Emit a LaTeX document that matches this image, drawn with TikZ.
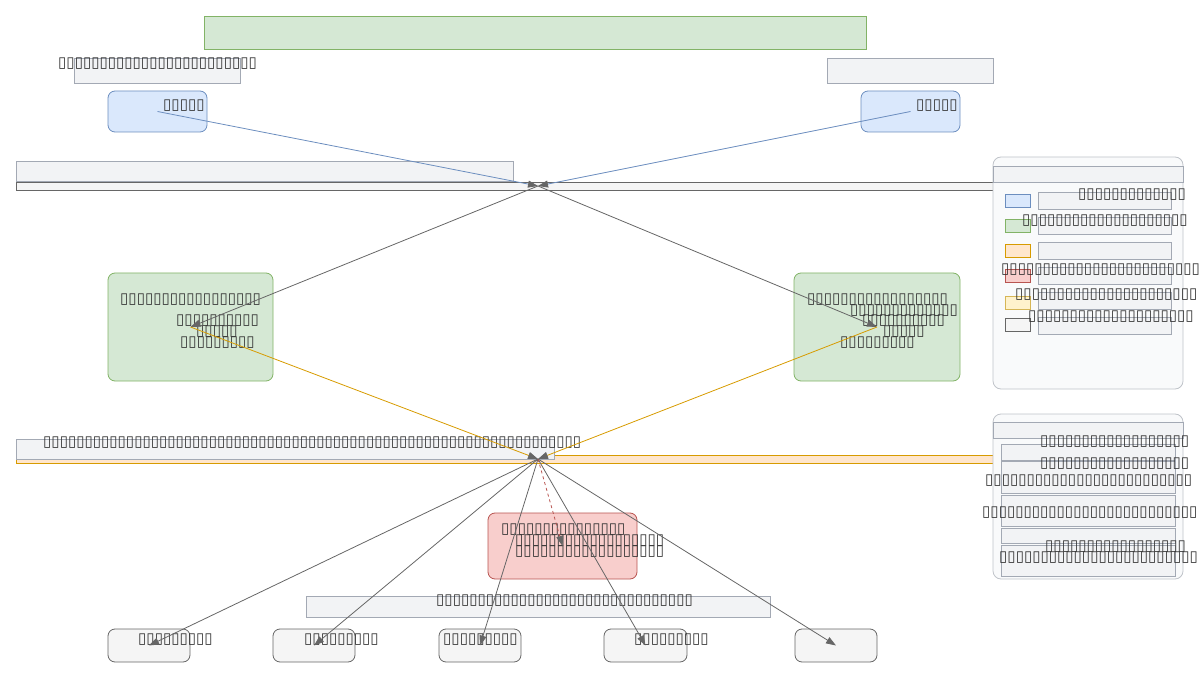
\documentclass[tikz,border=0pt]{standalone}
\usepackage{fontspec}
\usetikzlibrary{arrows.meta}
\newfontfamily\tofufont{DejaVu Sans}
\newcommand\tofus[1]{\foreach \i in {1,...,#1}{▯}}
\definecolor{cgray}{HTML}{666666}
\definecolor{ctext}{HTML}{333333}
\definecolor{lblfill}{HTML}{F2F3F5}
\definecolor{lbldraw}{HTML}{A3A9B4}
\definecolor{bluefill}{HTML}{DAE8FC}
\definecolor{bluedraw}{HTML}{6C8EBF}
\definecolor{greenfill}{HTML}{D5E8D4}
\definecolor{greendraw}{HTML}{82B366}
\definecolor{orfill}{HTML}{FFE6CC}
\definecolor{ordraw}{HTML}{D79B00}
\definecolor{redfill}{HTML}{F8CECC}
\definecolor{reddraw}{HTML}{B85450}
\definecolor{yelfill}{HTML}{FFF2CC}
\definecolor{yeldraw}{HTML}{D6B656}
\definecolor{grayfill}{HTML}{F5F5F5}
\definecolor{legfill}{HTML}{F9FAFB}
\definecolor{legdraw}{HTML}{BFC3C9}
\begin{document}
\begin{tikzpicture}[x=1pt,y=-1pt,
  txt/.style={anchor=west,inner sep=0pt,text=ctext,font=\tofufont\fontsize{15.05}{16}\selectfont},
  lbl/.style={fill=lblfill,draw=lbldraw,line width=0.8pt},
  bluebox/.style={fill=bluefill,draw=bluedraw,rounded corners=7pt,line width=0.8pt},
  greenbox/.style={fill=greenfill,draw=greendraw,rounded corners=7pt,line width=0.8pt},
  redbox/.style={fill=redfill,draw=reddraw,rounded corners=7pt,line width=0.8pt},
  graybox/.style={fill=grayfill,draw=cgray,rounded corners=7pt,line width=0.8pt},
  legbox/.style={fill=legfill,draw=legdraw,rounded corners=8pt,line width=0.8pt},
  sw/.style={line width=0.9pt},
  tip/.style={-{Triangle[length=10pt,width=7pt,color=cgray]}},
  conn/.style={tip,draw=cgray,line width=0.8pt},
]
\useasboundingbox (0,0) rectangle (1200,679);
% title
\node[fill=greenfill,draw=greendraw,line width=0.8pt,minimum width=662pt,minimum height=33pt,inner sep=0pt,anchor=north west] (title) at (204,16) {};
% header boxes
\draw[lbl] (74,58) rectangle (240,83);
\draw[lbl] (827,58) rectangle (993,83);
\node[txt] (hl) at (58,64) {\tofus{24}};
% blue nodes
\draw[bluebox] (108,91) rectangle (207,132);
\draw[bluebox] (861,91) rectangle (960,132);
\coordinate (b1) at (157.5,111.5);
\coordinate (b2) at (910.5,111.5);
\node[txt] (b1t) at (163,105.5) {\tofus{5}};
\node[txt] (b2t) at (916,105.5) {\tofus{5}};
% lane 1
\draw[fill=grayfill,draw=cgray,line width=0.8pt] (16,182) rectangle (993,190);
\draw[lbl] (16,161) rectangle (513,181.5);
\coordinate (j1) at (538,186);
% legend 1
\draw[legbox] (993,157) rectangle (1183,389);
\draw[lbl,fill=lblfill] (993,166) rectangle (1183,182);
\draw[sw,fill=bluefill,draw=bluedraw] (1005,194) rectangle (1030,207);
\draw[sw,fill=greenfill,draw=greendraw] (1005,219) rectangle (1030,232);
\draw[sw,fill=orfill,draw=ordraw] (1005,244) rectangle (1030,257);
\draw[sw,fill=redfill,draw=reddraw] (1005,269) rectangle (1030,282);
\draw[sw,fill=yelfill,draw=yeldraw] (1005,296) rectangle (1030,309);
\draw[sw,fill=grayfill,draw=cgray] (1005,318) rectangle (1030,331);
\foreach \y in {192,217,242,267,292,317}{\draw[lbl] (1038,\y) rectangle (1171,\y+17);}
\node[txt] (l1) at (1078,195) {\tofus{13}};
\node[txt] (l2) at (1022,220.5) {\tofus{20}};
\node[txt] (l4) at (1001,270) {\tofus{24}};
\node[txt] (l5) at (1015,295) {\tofus{22}};
\node[txt] (l6) at (1028,316.5) {\tofus{20}};
% green nodes
\draw[greenbox] (108,273) rectangle (273,381);
\draw[greenbox] (794,273) rectangle (960,381);
\coordinate (g1) at (190.5,327);
\coordinate (g2) at (877,327);
\node[txt] (g1a) at (120,299.5) {\tofus{17}};
\node[txt] (g1b) at (176,321) {\tofus{10}};
\node[txt] (g1c) at (196,331.5) {\tofus{5}};
\node[txt] (g1d) at (180,343) {\tofus{9}};
\node[txt] (g2a) at (807,299.5) {\tofus{17}};
\node[txt] (g2b) at (850,310.5) {\tofus{13}};
\node[txt] (g2c) at (862,321) {\tofus{10}};
\node[txt] (g2d) at (883,332) {\tofus{5}};
\node[txt] (g2e) at (840,343) {\tofus{9}};
% lane 2
\draw[fill=orfill,draw=ordraw,line width=0.8pt] (16,455) rectangle (993,463);
\draw[lbl] (16,439) rectangle (554,459);
\node[txt] (l2t) at (43,443) {\tofus{65}};
\coordinate (j2) at (538,459);
% legend 2
\draw[legbox] (993,414) rectangle (1183,579);
\draw[lbl] (993,422) rectangle (1183,438);
\draw[lbl] (1001,444) rectangle (1175,460);
\draw[lbl] (1001,461) rectangle (1175,493);
\draw[lbl] (1001,495) rectangle (1175,526);
\draw[lbl] (1001,528) rectangle (1175,543);
\draw[lbl] (1001,545) rectangle (1175,576);
\node[txt] (m1) at (1040,442) {\tofus{18}};
\node[txt] (m2) at (1040,463.5) {\tofus{18}};
\node[txt] (m3) at (985,480.5) {\tofus{25}};
\node[txt] (m4) at (982,513) {\tofus{26}};
\node[txt] (m5) at (1045,546.5) {\tofus{17}};
\node[txt] (m6) at (999,557.5) {\tofus{24}};
% red node
\draw[redbox] (488,513) rectangle (637,579);
\coordinate (r) at (562.5,546);
\node[txt] (ra) at (501,529.5) {\tofus{15}};
\node[txt] (rb) at (515,540.5) {\tofus{18}};
\node[txt] (rc) at (515,551.5) {\tofus{18}};
% bottom band
\draw[lbl] (306,596) rectangle (770,617);
\node[txt] (bb) at (436,600.5) {\tofus{31}};
% bottom nodes
\draw[graybox] (108,629) rectangle (190,662);
\draw[graybox] (273,629) rectangle (355,662);
\draw[graybox] (439,629) rectangle (521,662);
\draw[graybox] (604,629) rectangle (687,662);
\draw[graybox] (795,629) rectangle (877,662);
\coordinate (n1) at (149,645.5);
\coordinate (n2) at (314,645.5);
\coordinate (n3) at (480,645.5);
\coordinate (n4) at (645.5,645.5);
\coordinate (n5) at (836,645.5);
\node[txt] (n1t) at (138,639.5) {\tofus{9}};
\node[txt] (n2t) at (304,639.5) {\tofus{9}};
\node[txt] (n3t) at (443,639.5) {\tofus{9}};
\node[txt] (n4t) at (634,639.5) {\tofus{9}};
% connectors
\draw[tip,draw=bluedraw,line width=0.8pt] (b1) -- (j1);
\draw[tip,draw=bluedraw,line width=0.8pt] (b2) -- (j1);
\draw[conn] (j1) -- (g1);
\draw[conn] (j1) -- (g2);
\draw[tip,draw=ordraw,line width=0.8pt] (g1) -- (j2);
\draw[tip,draw=ordraw,line width=0.8pt] (g2) -- (j2);
\draw[conn] (j2) -- (n1);
\draw[conn] (j2) -- (n2);
\draw[conn] (j2) -- (n3);
\draw[conn] (j2) -- (n4);
\draw[conn] (j2) -- (n5);
\draw[tip,draw=reddraw,dashed,line width=0.8pt] (j2) -- (r);
\end{tikzpicture}
\end{document}
